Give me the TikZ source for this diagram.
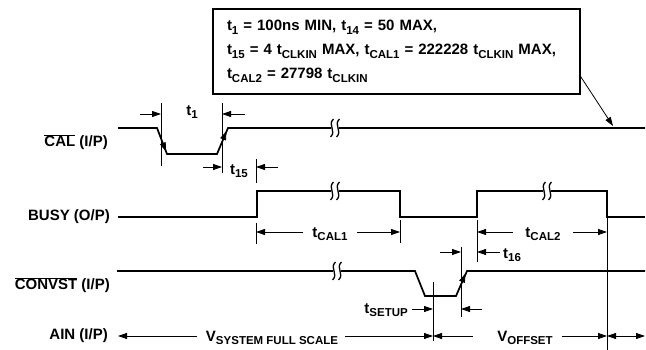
\documentclass[tikz,border=0pt]{standalone}
\usepackage{fontspec}
\setmainfont{Liberation Sans}
\usetikzlibrary{positioning, arrows.meta, calc}
\newcommand{\sbs}[1]{\raisebox{-0.45ex}{\fontsize{11.5}{12}\selectfont #1}}

\begin{document}
\begin{tikzpicture}[
  x=1pt, y=-1pt,
  every node/.style={font=\fontsize{15}{17}\selectfont\bfseries, inner sep=0pt},
  wave/.style={line width=1.7pt, line join=miter},
  tick/.style={line width=0.8pt},
  ptr/.style={line width=0.8pt, -{Triangle[length=9pt,width=6pt]}},
  dptr/.style={line width=0.8pt, {Triangle[length=9pt,width=6pt]}-{Triangle[length=9pt,width=6pt]}},
  sig/.style={anchor=east},
  infobox/.style={draw, line width=1.7pt, inner xsep=14pt, inner ysep=6pt,
    text width=339pt, minimum height=85pt, align=left,
    font=\fontsize{15}{24}\selectfont\bfseries},
  brk/.pic={
    \fill[white] (-4,-3) rectangle (4,3);
    \foreach \dx in {-3,3}
      \draw[line width=1.3pt] (\dx+1.5,-9) .. controls (\dx-5,-3) and (\dx+5,3) .. (\dx-1.5,9);
  }
]
\useasboundingbox (0,0) rectangle (646,350);

\node[infobox] (note) at (396.5,51.5) {t\sbs{1} = 100ns MIN, t\sbs{14} = 50 MAX,\\
  t\sbs{15} = 4 t\sbs{CLKIN} MAX, t\sbs{CAL1} = 222228 t\sbs{CLKIN} MAX,\\
  t\sbs{CAL2} = 27798 t\sbs{CLKIN}};
\coordinate (calnote) at (613,126);
\draw[ptr] ($(note.south east)+(0,-18)$) -- (calnote);

\node[sig] (cal) at (108,142) {$\overline{\mbox{CAL}}$ (I/P)};
\node[sig] (busy) at (110,217) {BUSY (O/P)};
\node[sig] (convst) at (110,285) {$\overline{\mbox{CONVST}}$ (I/P)};
\node[sig] (ain) at (108,336) {AIN (I/P)};

\draw[wave] (118,128) -- (157,128) -- (167,154) -- (217,154) -- (228,128) -- (645,128);
\draw[ptr] (157,128) -- (166,151.5);
\draw[ptr] (217,154) -- (226.5,131);
\draw[wave] (118,217) -- (257,217) -- (257,191) -- (400,191) -- (400,217) -- (477,217)
  -- (477,191) -- (607,191) -- (607,217) -- (645,217);
\draw[wave] (117,271) -- (415,271) -- (425,296) -- (456,296) -- (467,271) -- (645,271);
\draw[ptr] (456,296) -- (465.5,273.5);

\pic at (335,128) {brk};
\pic at (335,191) {brk};
\pic at (547,191) {brk};
\pic at (337,271) {brk};

\draw[tick] (161,103) -- (161,166);
\draw[tick] (222,103) -- (222,173);
\draw[tick] (256,159) -- (256,183);
\draw[tick] (256,223) -- (256,244);
\draw[tick] (400,220) -- (400,243);
\draw[tick] (477,220) -- (477,262);
\draw[tick] (607,217) -- (607,350);
\draw[tick] (461,247) -- (461,317);
\draw[tick] (433,282) -- (433,341);

\draw[ptr] (140,114) -- (161,114);
\draw[ptr] (245,114) -- (222,114);
\node (t1) at (192,112) {t\sbs{1}};
\draw[ptr] (203,167) -- (222,167);
\draw[ptr] (278,167) -- (256,167);
\node (t15) at (239,171) {t\sbs{15}};
\draw[ptr] (303,232) -- (256,232);
\draw[ptr] (357,232) -- (400,232);
\node (tcal1) at (330,234) {t\sbs{CAL1}};
\draw[ptr] (513,232) -- (477,232);
\draw[ptr] (573,232) -- (607,232);
\node (tcal2) at (543,234) {t\sbs{CAL2}};
\draw[ptr] (500,252) -- (477,252);
\draw[ptr] (440,252) -- (461,252);
\node[anchor=west] (t16) at (503,255) {t\sbs{16}};
\draw[ptr] (412,309) -- (433,309);
\draw[ptr] (482,309) -- (461,309);
\node[anchor=east] (tsetup) at (408,310) {t\sbs{SETUP}};

\draw[ptr] (197,336) -- (118,336);
\node (vfs) at (272,338) {V\sbs{SYSTEM FULL SCALE}};
\draw[ptr] (345,336) -- (433,336);
\draw[ptr] (473,336) -- (433,336);
\node (voff) at (525,338) {V\sbs{OFFSET}};
\draw[ptr] (562,336) -- (607,336);
\draw[dptr] (607,336) -- (645,336);
\end{tikzpicture}
\end{document}
